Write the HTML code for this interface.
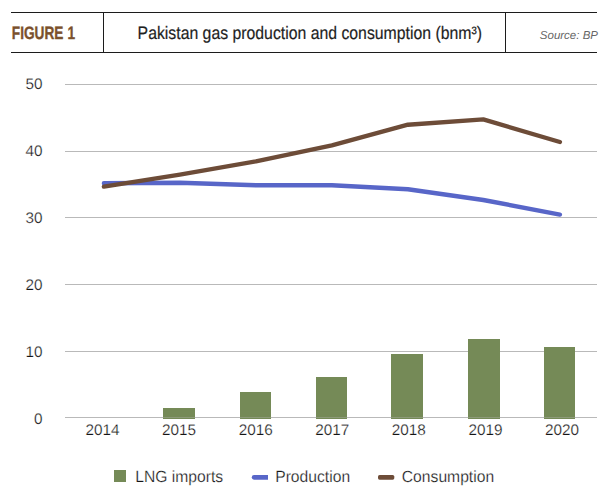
<!DOCTYPE html>
<html lang="en"><head><meta charset="utf-8"><title>Figure 1</title>
<style>
html,body{margin:0;padding:0;background:#fff}
svg{display:block}
text{font-family:"Liberation Sans",sans-serif;text-rendering:geometricPrecision}
</style></head><body>
<svg width="605" height="496" viewBox="0 0 605 496">
<rect width="605" height="496" fill="#fff"/>

<g stroke="#1c1c1c" stroke-width="1" fill="none">
<line x1="11" y1="12.5" x2="597" y2="12.5"/><line x1="11" y1="52.5" x2="597" y2="52.5"/>
<line x1="103.5" y1="12" x2="103.5" y2="53"/><line x1="505.5" y1="12" x2="505.5" y2="53"/></g>
<text id="fig" transform="translate(11.8,38.8) scale(0.76,1)" font-size="18" font-weight="bold" fill="#7a502c" stroke="#7a502c" stroke-width="0.35">FIGURE<tspan dx="0.3"> 1</tspan></text>
<text id="title" transform="translate(137.6,39) scale(0.878,1)" font-size="18" fill="#1f1f1f" stroke="#1f1f1f" stroke-width="0.2">Pakistan gas production and consumption (bnm³)</text>
<text id="src" x="598" y="38.8" text-anchor="end" font-size="11.5" font-style="italic" fill="#666">Source: BP</text>
<g stroke="#b9b9b9" stroke-width="1">
<line x1="65" y1="84.5" x2="597" y2="84.5"/>
<line x1="65" y1="151.5" x2="597" y2="151.5"/>
<line x1="65" y1="217.5" x2="597" y2="217.5"/>
<line x1="65" y1="284.5" x2="597" y2="284.5"/>
<line x1="65" y1="351.5" x2="597" y2="351.5"/>
<line x1="65" y1="417.5" x2="597" y2="417.5"/>
</g>
<g fill="#758a57">
<rect x="163" y="408" width="32" height="11"/>
<rect x="240" y="392" width="31" height="27"/>
<rect x="316" y="377" width="31" height="42"/>
<rect x="391" y="354" width="32" height="65"/>
<rect x="468" y="339" width="32" height="80"/>
<rect x="544" y="347" width="31" height="72"/>
</g>
<line x1="65" y1="417.5" x2="597" y2="417.5" stroke="#b9b9b9" stroke-opacity="0.35"/>
<g font-size="15.3" fill="#141414" stroke="#fff" stroke-width="0.24" text-anchor="end">
<text transform="translate(42.4,89) scale(1,1)">50</text>
<text transform="translate(42.4,156) scale(1,1)">40</text>
<text transform="translate(42.4,223) scale(1,1)">30</text>
<text transform="translate(42.4,290) scale(1,1)">20</text>
<text transform="translate(42.4,357) scale(1,1)">10</text>
<text transform="translate(42.4,424) scale(1,1)">0</text>
</g>
<g font-size="15.3" fill="#141414" stroke="#fff" stroke-width="0.24" text-anchor="middle">
<text transform="translate(102.5,435) scale(1,1)">2014</text>
<text transform="translate(179.1,435) scale(1,1)">2015</text>
<text transform="translate(255.7,435) scale(1,1)">2016</text>
<text transform="translate(332.2,435) scale(1,1)">2017</text>
<text transform="translate(408.8,435) scale(1,1)">2018</text>
<text transform="translate(485.4,435) scale(1,1)">2019</text>
<text transform="translate(562.0,435) scale(1,1)">2020</text>
</g>
<polyline points="103.9,183.3 179.9,182.7 255.9,185.3 331.9,185.3 407.9,189.3 483.3,200.0 559.9,214.6" fill="none" stroke="#5866c8" stroke-width="4.4" stroke-linecap="round" stroke-linejoin="round"/>
<polyline points="103.9,186.6 179.9,174.7 255.9,161.3 331.9,145.4 407.9,124.7 483.3,119.4 559.9,142.0" fill="none" stroke="#6d4c38" stroke-width="4.4" stroke-linecap="round" stroke-linejoin="round"/>
<rect x="114" y="470" width="12" height="12" fill="#758a57"/>
<path d="M254 475 H268 V479.7 H254 A2.2 2.35 0 0 1 254 475 Z" fill="#5866c8"/>
<rect x="378" y="475" width="16.3" height="4.7" rx="1.6" fill="#6d4c38"/>
<g font-size="16.2" fill="#141414" stroke="#fff" stroke-width="0.24">
<text transform="translate(135.2,481.8) scale(0.968,1)">LNG imports</text>
<text transform="translate(275.2,481.8) scale(0.968,1)">Production</text>
<text transform="translate(401.8,481.8) scale(0.968,1)">Consumption</text>
</g>
</svg></body></html>
